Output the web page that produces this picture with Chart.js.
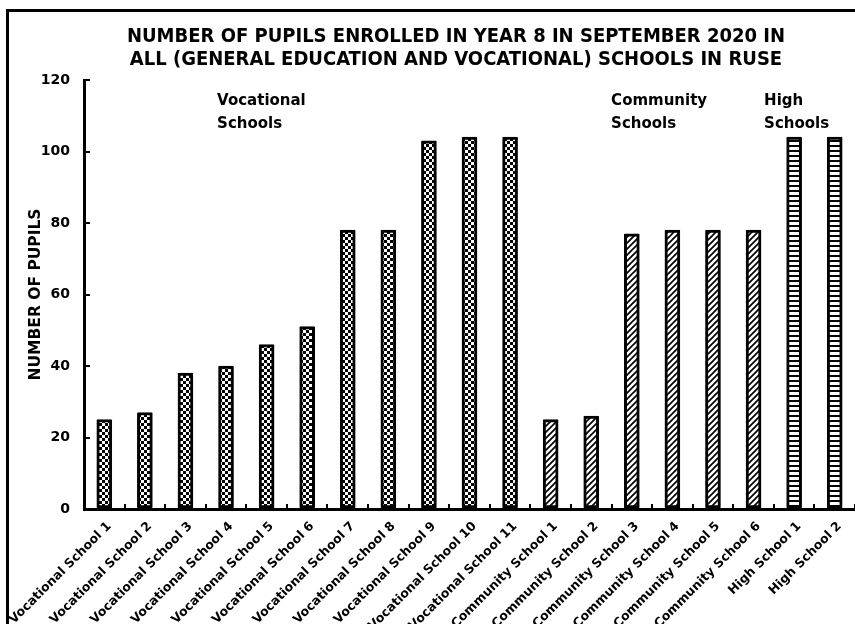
<!DOCTYPE html>
<html lang="en">
<head>
  <meta charset="UTF-8">
  <title>Year 8 pupils - Ruse</title>
  <script src="https://cdn.jsdelivr.net/npm/chart.js"></script>
  <style>
    html, body { margin: 0; padding: 0; background: #fff; overflow: hidden; }
    #frame {
      position: absolute; left: 6px; top: 9px;
      width: 920px; height: 700px;
      border: 3px solid #000;
    }
    #wrap { position: absolute; left: 0; top: 0; width: 855px; height: 624px; }
  </style>
</head>
<body>
  <div id="frame"></div>
  <div id="wrap"><canvas id="pupilsChart" width="855" height="624"></canvas></div>

  <script>
    const schoolNames = [
      'Vocational School 1', 'Vocational School 2', 'Vocational School 3', 'Vocational School 4',
      'Vocational School 5', 'Vocational School 6', 'Vocational School 7', 'Vocational School 8',
      'Vocational School 9', 'Vocational School 10', 'Vocational School 11',
      'Community School 1', 'Community School 2', 'Community School 3', 'Community School 4',
      'Community School 5', 'Community School 6',
      'High School 1', 'High School 2'
    ];
    const pupilCounts = [25, 27, 38, 40, 46, 51, 78, 78, 103, 104, 104, 25, 26, 77, 78, 78, 78, 104, 104];
    const schoolTypes = [
      'voc', 'voc', 'voc', 'voc', 'voc', 'voc', 'voc', 'voc', 'voc', 'voc', 'voc',
      'com', 'com', 'com', 'com', 'com', 'com',
      'high', 'high'
    ];
    const yTicks = [0, 20, 40, 60, 80, 100, 120];

    const titleLines = [
      'NUMBER OF PUPILS ENROLLED IN YEAR 8 IN SEPTEMBER 2020 IN',
      'ALL (GENERAL EDUCATION AND VOCATIONAL) SCHOOLS IN RUSE'
    ];

    const FONT = "'DejaVu Sans', Verdana, sans-serif";
    const FONT_NARROW = "'DejaVu Sans Condensed', 'DejaVu Sans', sans-serif";

    // fill patterns for the three school types
    function makePattern(kind) {
      const c = document.createElement('canvas');
      const g = c.getContext('2d');
      if (kind === 'voc') {
        c.width = 6; c.height = 6;
        g.fillStyle = '#fff'; g.fillRect(0, 0, 6, 6);
        g.fillStyle = '#000';
        g.fillRect(0, 0, 3, 3);
        g.fillRect(3, 3, 3, 3);
      } else if (kind === 'com') {
        c.width = 6; c.height = 6;
        g.fillStyle = '#fff'; g.fillRect(0, 0, 6, 6);
        g.strokeStyle = '#000'; g.lineWidth = 1.7;
        g.beginPath();
        g.moveTo(-1, 7); g.lineTo(7, -1);
        g.moveTo(-1, 1); g.lineTo(1, -1);
        g.moveTo(5, 7); g.lineTo(7, 5);
        g.stroke();
      } else {
        c.width = 4; c.height = 5;
        g.fillStyle = '#fff'; g.fillRect(0, 0, 4, 5);
        g.fillStyle = '#000'; g.fillRect(0, 0, 4, 2);
      }
      return g.createPattern(c, 'repeat');
    }
    const fills = { voc: makePattern('voc'), com: makePattern('com'), high: makePattern('high') };

    // title and group captions
    const captions = {
      id: 'captions',
      afterDraw(chart) {
        const { ctx, scales: { x, y } } = chart;
        ctx.save();
        ctx.fillStyle = '#000';
        ctx.textBaseline = 'middle';

        ctx.font = 'bold 20px ' + FONT_NARROW;
        ctx.textAlign = 'center';
        titleLines.forEach((t, i) => ctx.fillText(t, 456, 37 + i * 23));

        ctx.font = 'bold 15px ' + FONT;
        ctx.textAlign = 'left';
        const notes = [
          { at: 2.78, lines: ['Vocational', 'Schools'] },
          { at: 12.49, lines: ['Community', 'Schools'] },
          { at: 16.26, lines: ['High', 'Schools'] }
        ];
        notes.forEach(n => {
          const px = x.getPixelForValue(n.at);
          const py = y.getPixelForValue(114);
          n.lines.forEach((t, i) => ctx.fillText(t, px, py + i * 23));
        });
        ctx.restore();
      }
    };

    new Chart(document.getElementById('pupilsChart'), {
      type: 'bar',
      data: {
        labels: schoolNames,
        datasets: [{
          data: pupilCounts,
          backgroundColor: schoolTypes.map(t => fills[t]),
          borderColor: '#000',
          borderWidth: 3,
          borderSkipped: false,
          borderRadius: 1,
          barThickness: 15
        }]
      },
      options: {
        responsive: false,
        animation: false,
        layout: { padding: { top: 80, right: 0, left: 0, bottom: 0 } },
        plugins: {
          legend: { display: false },
          tooltip: { enabled: false }
        },
        scales: {
          x: {
            offset: true,
            grid: { drawOnChartArea: false, offset: true, tickLength: -5, color: '#000', lineWidth: 2 },
            border: { color: '#000', width: 3 },
            ticks: {
              autoSkip: false, maxRotation: 45, minRotation: 45,
              color: '#000', padding: 15, labelOffset: 5,
              font: { family: FONT, size: 12.5, weight: 'bold' }
            },
            afterFit(s) {
              s.height = 115;
              // rotated labels may run under the y axis, keep the plot edges fixed
              s.paddingLeft = 0;
              s.paddingRight = 0;
            }
          },
          y: {
            min: 0, max: 120,
            afterBuildTicks(s) { s.ticks = yTicks.map(v => ({ value: v })); },
            grid: { drawOnChartArea: false, tickLength: -6, color: '#000', lineWidth: 2 },
            border: { color: '#000', width: 3 },
            ticks: {
              color: '#000', padding: 20,
              font: { family: FONT, size: 14, weight: 'bold' }
            },
            title: {
              display: true, text: 'NUMBER OF PUPILS', color: '#000',
              font: { family: FONT, size: 15.5, weight: 'bold' },
              padding: { top: 27, bottom: 0 }
            },
            afterFit(s) { s.width = 84; }
          }
        }
      },
      plugins: [captions]
    });
  </script>
</body>
</html>
